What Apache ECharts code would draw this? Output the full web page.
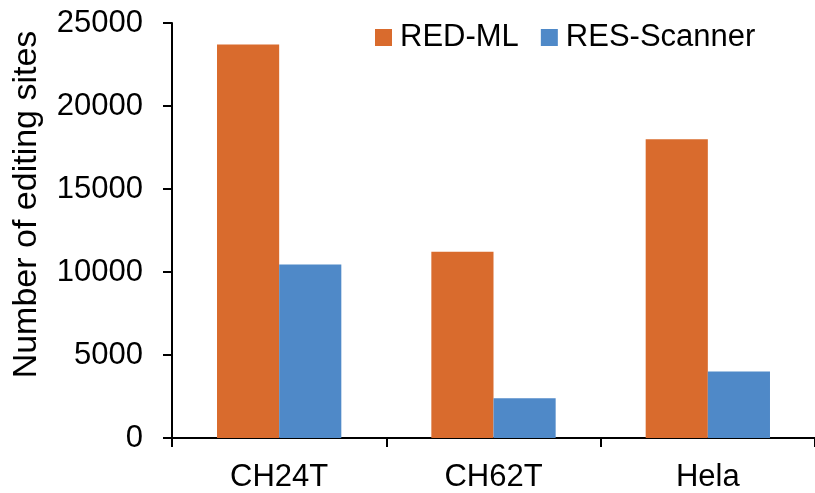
<!DOCTYPE html>
<html>
<head>
<meta charset="utf-8">
<script src="https://cdn.jsdelivr.net/npm/echarts@6/dist/echarts.min.js"></script>
<style>html,body{margin:0;padding:0;background:#fff;}#c{width:815px;height:493px;}</style>
</head>
<body>
<div id="c"></div>
<script>
const categories = ['CH24T', 'CH62T', 'Hela'];
const redML = [23700, 11220, 18000];
const resScanner = [10450, 2390, 4000];
const seriesNames = ['RED-ML', 'RES-Scanner'];
const yTicks = { min: 0, max: 25000, interval: 5000 };

const chart = echarts.init(document.getElementById('c'));
const font = 'Liberation Sans, Arial, sans-serif';
chart.setOption({
  animation: false,
  backgroundColor: '#fff',
  grid: { left: 172, right: 0, top: 23, bottom: 55, containLabel: false, outerBoundsMode: 'none' },
  legend: {
    data: seriesNames,
    top: 22, left: 375,
    itemWidth: 17, itemHeight: 17, itemGap: 22,
    icon: 'rect',
    textStyle: { fontFamily: font, fontSize: 31, color: '#000', padding: [0, 0, 0, 3] },
    padding: 0
  },
  xAxis: {
    type: 'category',
    data: categories,
    axisLine: { lineStyle: { color: '#000', width: 2 } },
    axisTick: { show: true, length: 9, lineStyle: { color: '#000', width: 2 } },
    axisLabel: { fontFamily: font, fontSize: 31, color: '#000', margin: 24 }
  },
  yAxis: {
    type: 'value',
    min: yTicks.min, max: yTicks.max, interval: yTicks.interval,
    name: 'Number of editing sites',
    nameLocation: 'middle',
    nameGap: 128,
    nameTextStyle: { fontFamily: font, fontSize: 34, color: '#000', padding: [0, 0, 0, 52] },
    axisLine: { show: true, lineStyle: { color: '#000', width: 2 } },
    axisTick: { show: true, length: 9, lineStyle: { color: '#000', width: 2 } },
    splitLine: { show: false },
    axisLabel: { fontFamily: font, fontSize: 31, color: '#000', margin: 29,
      formatter: v => String(v) }
  },
  series: [
    { name: seriesNames[0], type: 'bar', data: redML, barGap: '0%', barCategoryGap: '42%',
      itemStyle: { color: '#D96B2D' } },
    { name: seriesNames[1], type: 'bar', data: resScanner, barGap: '0%', barCategoryGap: '42%',
      itemStyle: { color: '#4F89C8' } }
  ]
});
</script>
</body>
</html>
